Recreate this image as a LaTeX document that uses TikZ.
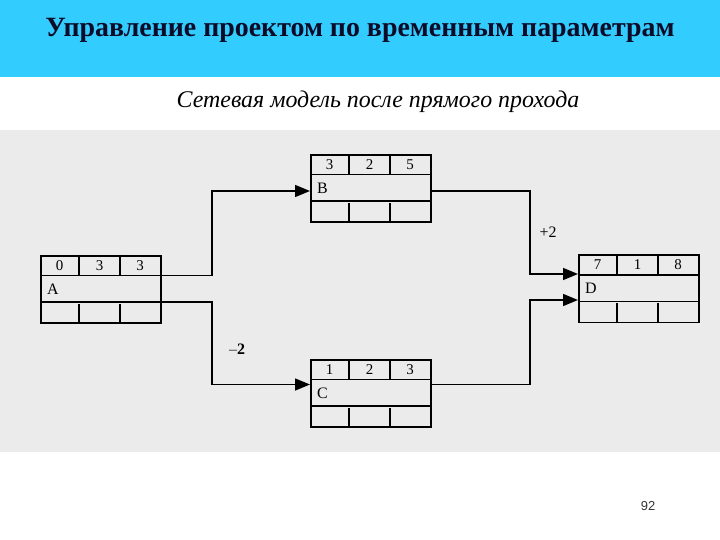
\documentclass[tikz,border=0pt]{standalone}
\usepackage{fontspec}
\setmainfont{Liberation Serif}
\setsansfont{Liberation Sans}
\usetikzlibrary{arrows.meta,calc}
\definecolor{hdr}{RGB}{51,204,255}
\definecolor{panel}{RGB}{235,235,235}
\definecolor{ttl}{RGB}{12,12,40}
\tikzset{
 actbox/.style={draw, line width=1.8bp, minimum width=120bp, minimum height=67bp, inner sep=0, anchor=north west},
 cellline/.style={line width=1.8bp},
 conn/.style={line width=1.5bp, -{Triangle[length=15bp,width=12bp]}},
 cellnum/.style={font=\fontsize{15}{15}\selectfont, inner sep=0},
 actname/.style={font=\fontsize{16}{16}\selectfont, inner sep=0, anchor=west},
 lag/.style={font=\fontsize{16}{16}\selectfont, inner sep=0},
}
\newcommand\actblock[6]{%
 \node[actbox] (#1) at (#2) {};
 \draw[cellline] ($(#1.north west)+(0,20.5)$) -- ($(#1.north east)+(0,20.5)$);
 \draw[cellline] ($(#1.north west)+(0,47)$) -- ($(#1.north east)+(0,47)$);
 \draw[cellline] ($(#1.north west)+(39,0)$) -- ($(#1.north west)+(39,20.5)$);
 \draw[cellline] ($(#1.north west)+(80,0)$) -- ($(#1.north west)+(80,20.5)$);
 \draw[cellline] ($(#1.south west)+(39,0)$) -- ($(#1.south west)+(39,-20)$);
 \draw[cellline] ($(#1.south west)+(80,0)$) -- ($(#1.south west)+(80,-20)$);
 \node[cellnum] (#1-es) at ($(#1.north west)+(19.5,10.5)$) {#3};
 \node[cellnum] (#1-du) at ($(#1.north west)+(59.5,10.5)$) {#4};
 \node[cellnum] (#1-ef) at ($(#1.north west)+(100,10.5)$) {#5};
 \node[actname] (#1-nm) at ($(#1.north west)+(7,34)$) {#6};
}
\begin{document}
\begin{tikzpicture}[x=1bp,y=-1bp]
\useasboundingbox (0,0) rectangle (720,540);
\fill[white] (0,0) rectangle (720,540);
\fill[hdr] (0,0) rectangle (720,77.3);
\fill[panel] (0,130) rectangle (720,452);
\node[text=ttl, font=\fontsize{28}{28}\selectfont\bfseries, inner sep=0] (title) at (360,30) {Управление проектом по временным параметрам};
\node[font=\fontsize{24}{24}\selectfont\itshape, inner sep=0] (subtitle) at (378,102) {Сетевая модель после прямого прохода};

\actblock{A}{40,255}{0}{3}{3}{A}
\actblock{B}{310,154}{3}{2}{5}{B}
\actblock{C}{310,359}{1}{2}{3}{C}
\actblock{D}{578,254.5}{7}{1}{8}{D}

\coordinate (A-o1) at ($(A.north east)+(0,20.5)$);
\coordinate (A-o2) at ($(A.north east)+(0,47)$);
\coordinate (B-in) at ($(B.north west)+(0,37)$);
\coordinate (B-out) at ($(B.north east)+(0,37)$);
\coordinate (C-in) at ($(C.north west)+(0,25.5)$);
\coordinate (C-out) at ($(C.north east)+(0,25.5)$);
\coordinate (D-in1) at ($(D.north west)+(0,19.5)$);
\coordinate (D-in2) at ($(D.north west)+(0,45.5)$);

\draw[conn] (A-o1) -- ++(50,0) coordinate (A-k1) |- (B-in);
\draw[conn] (A-o2) -- ++(50,0) coordinate (A-k2) |- (C-in);
\draw[conn] (B-out) -- ++(98,0) coordinate (B-k) |- (D-in1);
\draw[conn] (C-out) -- ++(98,0) coordinate (C-k) |- (D-in2);

\node[lag] (lagBD) at (548,232) {+2};
\node[lag, font=\fontsize{16}{16}\selectfont\bfseries] (lagAC) at (237,349) {\textcolor{black!60}{–}2};

\node[font=\sffamily\fontsize{13}{13}\selectfont, text=black!80, inner sep=0] (page) at (648,506) {92};
\end{tikzpicture}
\end{document}
